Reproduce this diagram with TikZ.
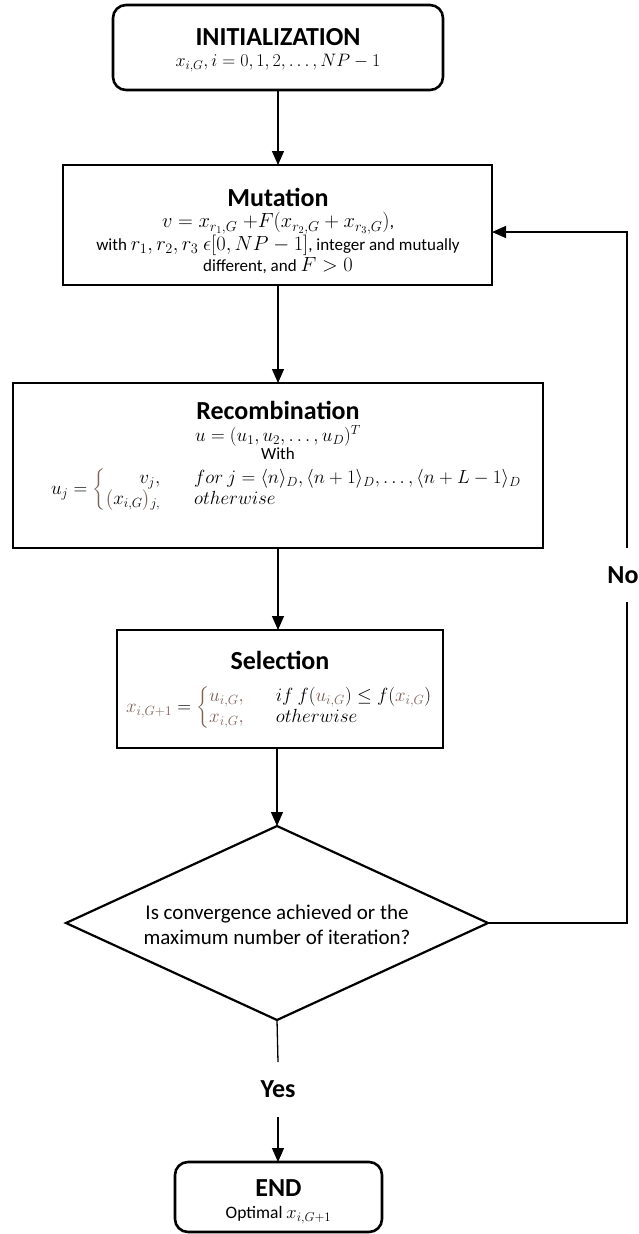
\RequirePackage{fix-cm}
\documentclass[tikz,border=0pt]{standalone}
\usepackage{amsmath}
\usepackage{fontspec}
\setmainfont{Carlito}
\usetikzlibrary{shapes.geometric,arrows.meta}
\definecolor{br}{RGB}{125,98,88}
\newcommand{\mm}[2]{{\fontsize{#1}{21}\selectfont$#2$}}
\begin{document}
\begin{tikzpicture}[x=1pt,y=-1pt,
  every node/.style={inner sep=0pt,outer sep=0pt},
  process/.style={draw,line width=2.6pt},
  term/.style={process,rounded corners=13pt},
  decision/.style={draw,diamond,line width=2.2pt,minimum width=422pt,minimum height=194pt},
  ttl/.style={font=\fontsize{26}{30}\selectfont\bfseries},
  txt/.style={font=\fontsize{17}{21}\selectfont,align=center},
  qtxt/.style={font=\fontsize{21}{25.5}\selectfont,align=center},
  lbl/.style={font=\fontsize{26}{30}\selectfont\bfseries},
  conn/.style={line width=1.3pt},
  arr/.style={conn,-{Triangle[length=14pt,width=12pt]}}]
\useasboundingbox[fill=white] (0,0) rectangle (638,1234);

% boxes
\node[term,minimum width=330pt,minimum height=85pt] (init) at (278,47.5) {};
\node[process,minimum width=429pt,minimum height=120pt] (mut) at (277.5,225) {};
\node[process,minimum width=530pt,minimum height=165pt] (rec) at (278,465.5) {};
\node[process,minimum width=326pt,minimum height=118pt] (sel) at (280,689) {};
\node[decision] (dia) at (277,923) {};
\node[term,minimum width=207pt,minimum height=70pt] (end) at (278.5,1197) {};

% texts
\node[ttl] (initt) at (278,37) {INITIALIZATION};
\node[txt] (initm) at (278,63) {\mm{18}{x_{i,G}, i=0,1,2,\ldots,NP-1}};

\node[ttl] (mutt) at (278,197) {Mutation};
\node[txt] (mutb) at (278,243) {\mm{20.5}{v=x_{r_1,G}\;{+}F(x_{r_2,G}+x_{r_3,G})},\\
with \mm{20.5}{r_1,r_2,r_3\ \epsilon[0,NP-1]}, integer and mutually\\
different, and \mm{20.5}{F>0}};

\node[ttl] (rect) at (278,410) {Recombination};
\node[txt] (recu) at (278,436) {\mm{19}{u=(u_1,u_2,\ldots,u_D)^T}};
\node[txt] (recw) at (278,454) {With};
\node[txt,anchor=west] (recc) at (51,490) {\mm{19}{u_j={\color{br}\left\{\color{black}\begin{array}{@{}r@{\hspace{34pt}}l@{}}
v_j, & for\ j=\langle n\rangle_D,\langle n+1\rangle_D,\ldots,\langle n+L-1\rangle_D\\[-1pt]
{\color{br}\bigl(}x_{i,G}{\color{br}\bigr)}_{j,} & otherwise
\end{array}\right.}}};

\node[ttl] (selt) at (280,660) {Selection};
\node[txt,anchor=west] (selc) at (126,708) {\mm{19}{{\color{br}x_{i,G+1}}={\color{br}\left\{\begin{array}{@{}l@{\hspace{32pt}}l@{}}
u_{i,G}, & \color{black}if\ f({\color{br}u_{i,G}})\le f({\color{br}x_{i,G}})\\
x_{i,G}, & \color{black}otherwise
\end{array}\right.}}};

\node[qtxt] (diat) at (277,925) {Is convergence achieved or the\\maximum number of iteration?};

\node[ttl] (endt) at (278.5,1188) {END};
\node[txt,font=\fontsize{17.5}{21}\selectfont] (endb) at (278.5,1215) {Optimal \mm{18.5}{x_{i,G+1}}};

% labels
\node[lbl,minimum height=54pt] (no) at (623,575) {No};
\node[lbl,minimum height=55pt] (yes) at (278,1089.5) {Yes};

% connectors
\coordinate (c1) at (627,923);
\coordinate (c2) at (627,232);
\draw[arr] (init.south) -- (init.south |- mut.north);
\draw[arr] (mut.south -| init.south) -- (init.south |- rec.north);
\draw[arr] (rec.south) -- (rec.south |- sel.north);
\draw[arr] (sel.south -| dia.north) -- (dia.north);
\draw[conn] (dia.east) -- (c1) -- (c1 |- no.south);
\draw[arr] (c2 |- no.north) -- (c2) -- (c2 -| mut.east);
\draw[conn] (dia.south) -- (yes.north);
\draw[arr] (yes.south) -- (yes.south |- end.north);
\end{tikzpicture}
\end{document}
